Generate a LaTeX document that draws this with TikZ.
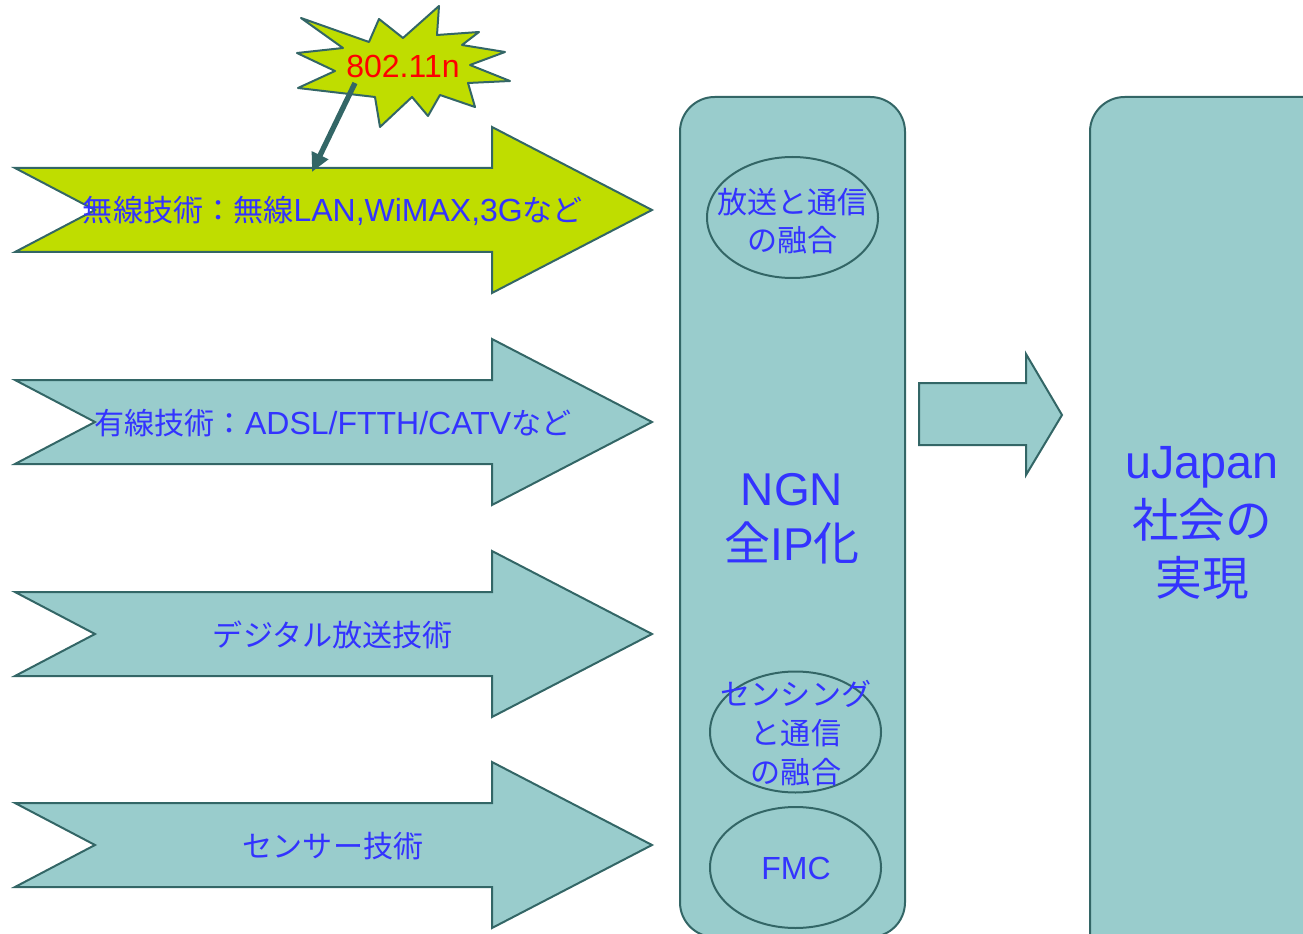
\documentclass[tikz,border=0pt]{standalone}
\usepackage{fontspec}
\setmainfont{Liberation Sans}
\newfontfamily\jp[Scale=0.94]{Noto Sans CJK JP}
\newfontfamily\jpL{Noto Sans CJK JP}
\usetikzlibrary{arrows.meta,shapes.geometric}
\definecolor{tealfill}{HTML}{99CCCC}
\definecolor{edgecol}{HTML}{336666}
\definecolor{limefill}{HTML}{BFDD00}
\definecolor{txtblue}{HTML}{3333FF}
\newcommand\BigArrow[4]{%
  \draw[shapebox,fill=#2] (15,#1-42) -- (492,#1-42) -- (492,#1-83) -- (652,#1)
    -- (492,#1+83) -- (492,#1+42) -- (15,#1+42) -- (95,#1) -- cycle;
  \node[lbl] (#3) at (333,#1+1) {#4};}
\begin{document}
\begin{tikzpicture}[x=0.75pt,y=-0.75pt,
  shapebox/.style={draw=edgecol,line width=1.5pt,fill=tealfill,line join=miter},
  ellbox/.style={draw=edgecol,line width=1.5pt,ellipse,inner sep=0pt,minimum width=128.25pt,minimum height=90.75pt},
  lbl/.style={text=txtblue,font=\fontsize{24}{28}\selectfont,align=center,inner sep=0pt},
  conn/.style={draw=edgecol,line width=4pt,-{Triangle[length=14pt,width=13pt]}}]
\useasboundingbox (0,0) rectangle (1303,934);

% starburst
\draw[shapebox,fill=limefill,line width=1.5pt,line join=round]
  (301,18) -- (369,42) -- (379,19) -- (403,38) -- (439,6) -- (437,35) -- (479,32)
  -- (462,45) -- (505,52) -- (470,65) -- (510,81) -- (468,83) -- (475,107) -- (440,95)
  -- (428,116) -- (412,97) -- (380,127) -- (375,97) -- (298,88) -- (335,71) -- (297,53)
  -- (343,48) -- cycle;
\node[lbl,text=red] (burst) at (403,66) {802.11n};

% big arrows
\BigArrow{210}{limefill}{wireless}{{\jp 無線技術：無線}LAN,WiMAX,3G{\jp など}}
\BigArrow{422}{tealfill}{wired}{{\jp 有線技術：}ADSL/FTTH/CATV{\jp など}}
\BigArrow{634}{tealfill}{digital}{{\jp デジタル放送技術}}
\BigArrow{845}{tealfill}{sensor}{{\jp センサー技術}}

% connector from starburst
\coordinate (bs) at (355,83);
\coordinate (bt) at (312,172);
\draw[conn] (bs) -- (bt);

% NGN box
\draw[shapebox,rounded corners=26pt] (680,97) rectangle (905,937);
\node[ellbox] (e1) at (792.5,217.5) {};
\node[ellbox] (e2) at (795.5,732) {};
\node[ellbox] (e3) at (795.5,867.5) {};
\node[lbl,font=\fontsize{24}{28}\selectfont] (t1) at (792.5,221) {{\jp 放送と通信}\\{\jp の融合}};
\node[lbl,font=\fontsize{24}{29}\selectfont] (t2) at (796,733) {{\jp センシング}\\{\jp と通信}\\{\jp の融合}};
\node[lbl] (t3) at (796,868) {FMC};
\node[lbl,font=\fontsize{34.5}{41}\selectfont] (ngn) at (792,519) {NGN\\{\jpL 全}IP{\jpL 化}};

% middle arrow
\draw[shapebox] (919,383) -- (1026,383) -- (1026,354) -- (1062,415) -- (1026,475)
  -- (1026,445) -- (919,445) -- cycle;

% right box
\draw[shapebox,rounded corners=26pt] (1090,97) rectangle (1340,980);
\node[lbl,font=\fontsize{35}{44}\selectfont] (uj) at (1202,523) {uJapan\\{\jpL 社会の}\\{\jpL 実現}};
\end{tikzpicture}
\end{document}
